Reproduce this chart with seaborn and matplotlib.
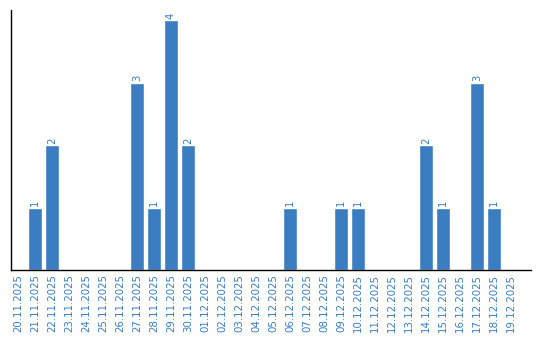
import matplotlib
matplotlib.use("Agg")
import matplotlib.pyplot as plt
import seaborn as sns
import pandas as pd

dates = ["20.11.2025", "21.11.2025", "22.11.2025", "23.11.2025", "24.11.2025",
         "25.11.2025", "26.11.2025", "27.11.2025", "28.11.2025", "29.11.2025",
         "30.11.2025", "01.12.2025", "02.12.2025", "03.12.2025", "04.12.2025",
         "05.12.2025", "06.12.2025", "07.12.2025", "08.12.2025", "09.12.2025",
         "10.12.2025", "11.12.2025", "12.12.2025", "13.12.2025", "14.12.2025",
         "15.12.2025", "16.12.2025", "17.12.2025", "18.12.2025", "19.12.2025"]
counts = [0, 1, 2, 0, 0, 0, 0, 3, 1, 4, 2, 0, 0, 0, 0, 0, 1, 0, 0, 1,
          1, 0, 0, 0, 2, 1, 0, 3, 1, 0]

blue = "#3a7dc1"
sns.set_style("white")
plt.rcParams['font.family'] = ['DejaVu Sans']

df = pd.DataFrame({"date": dates, "count": counts})
fig = plt.figure(figsize=(5.4, 3.4), dpi=100)
ax = fig.add_axes([10.5/540, 70/340, 520/540, 260/340])
sns.barplot(data=df, x="date", y="count", color=blue, saturation=1, width=0.82, ax=ax)

ax.set_ylim(0, 4.16)
ax.set_xlim(-0.44, 30.15)
ax.set_xlabel("")
ax.set_ylabel("")
ax.set_yticks([])
ax.tick_params(axis="x", rotation=90, labelsize=7.4, labelcolor=blue, length=0, pad=3)
for s in ["top", "right"]:
    ax.spines[s].set_visible(False)
for s in ["left", "bottom"]:
    ax.spines[s].set_color("black")
    ax.spines[s].set_linewidth(1)

for c in ax.containers:
    labels = [str(int(v)) if v > 0 else "" for v in c.datavalues]
    ax.bar_label(c, labels=labels, rotation=90, fontsize=7.2, color=blue, padding=1)

fig.savefig("out.png", dpi=100)
